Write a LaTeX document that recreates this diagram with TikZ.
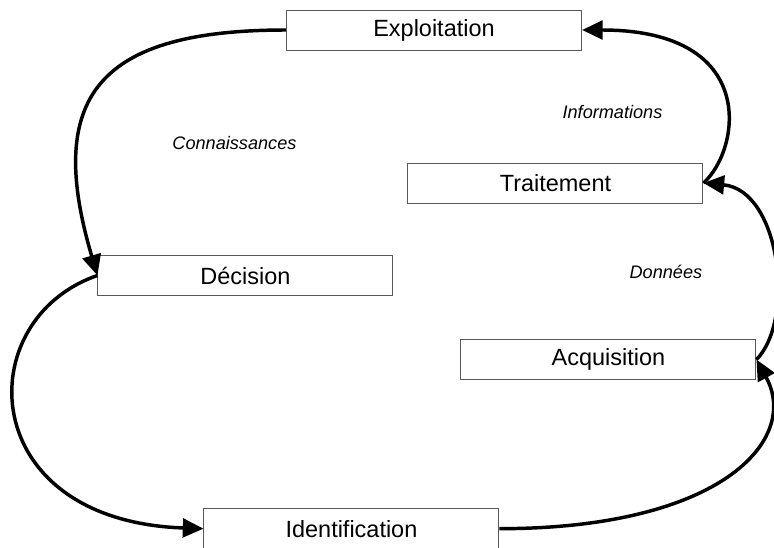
\documentclass[tikz,border=0pt]{standalone}
\usepackage{fontspec}
\setmainfont{Liberation Sans}
\usetikzlibrary{positioning, arrows.meta}
\tikzset{
	etape/.append style={
		draw=black!65,
		line width=0.75pt,
		fill=white,
		align = center,
		minimum width=221.25pt,
		minimum height=30pt,
		font={\fontsize{17.6pt}{21pt}\selectfont}
	},
	etiq/.append style={
		align = center,
		font={\fontsize{13.6pt}{16pt}\selectfont\itshape}
	},
	fleche/.append style={
		line width=2.6pt,
		-{Triangle[length=15.5pt,width=14pt]}
	}
}

\begin{document}
\begin{tikzpicture}[on grid]
\useasboundingbox (0,0) rectangle (580.5pt,-410.25pt);

\node[etape](expl) at (325.5pt,-22.5pt) {Exploitation};
\node[etape](trait)[below right = 114.75pt and 91.1pt of expl] {Traitement};
\node[etape](dec)[below left = 184.1pt and 141.4pt of expl] {Décision};
\node[etape](acq)[below right = 132.4pt and 39.75pt of trait] {Acquisition};
\node[etape](ident)[below right = 189.9pt and 79.5pt of dec] {Identification};

\node[etiq](conn)[above left = 99.4pt and 8.25pt of dec] {Connaissances};
\node[etiq](info)[above right = 53.25pt and 42.75pt of trait] {Informations};
\node[etiq](donn)[above right = 65.6pt and 43.1pt of acq] {Données};

\draw[fleche] (expl.west) .. controls +(-140pt,0pt) and +(-40pt,135pt) .. (dec.west);
\draw[fleche] (dec.west) .. controls +(-96pt,-33pt) and +(-171.75pt,6pt) .. (ident.west);
\draw[fleche] (ident.east) .. controls +(165.75pt,0pt) and +(33pt,-60.4pt) .. (acq.east);
\draw[fleche] (acq.east) .. controls +(29.25pt,29.6pt) and +(57.75pt,-5.25pt) .. (trait.east);
\draw[fleche] (trait.east) .. controls +(27.75pt,24.75pt) and +(133.5pt,0pt) .. (expl.east);
\end{tikzpicture}
\end{document}
